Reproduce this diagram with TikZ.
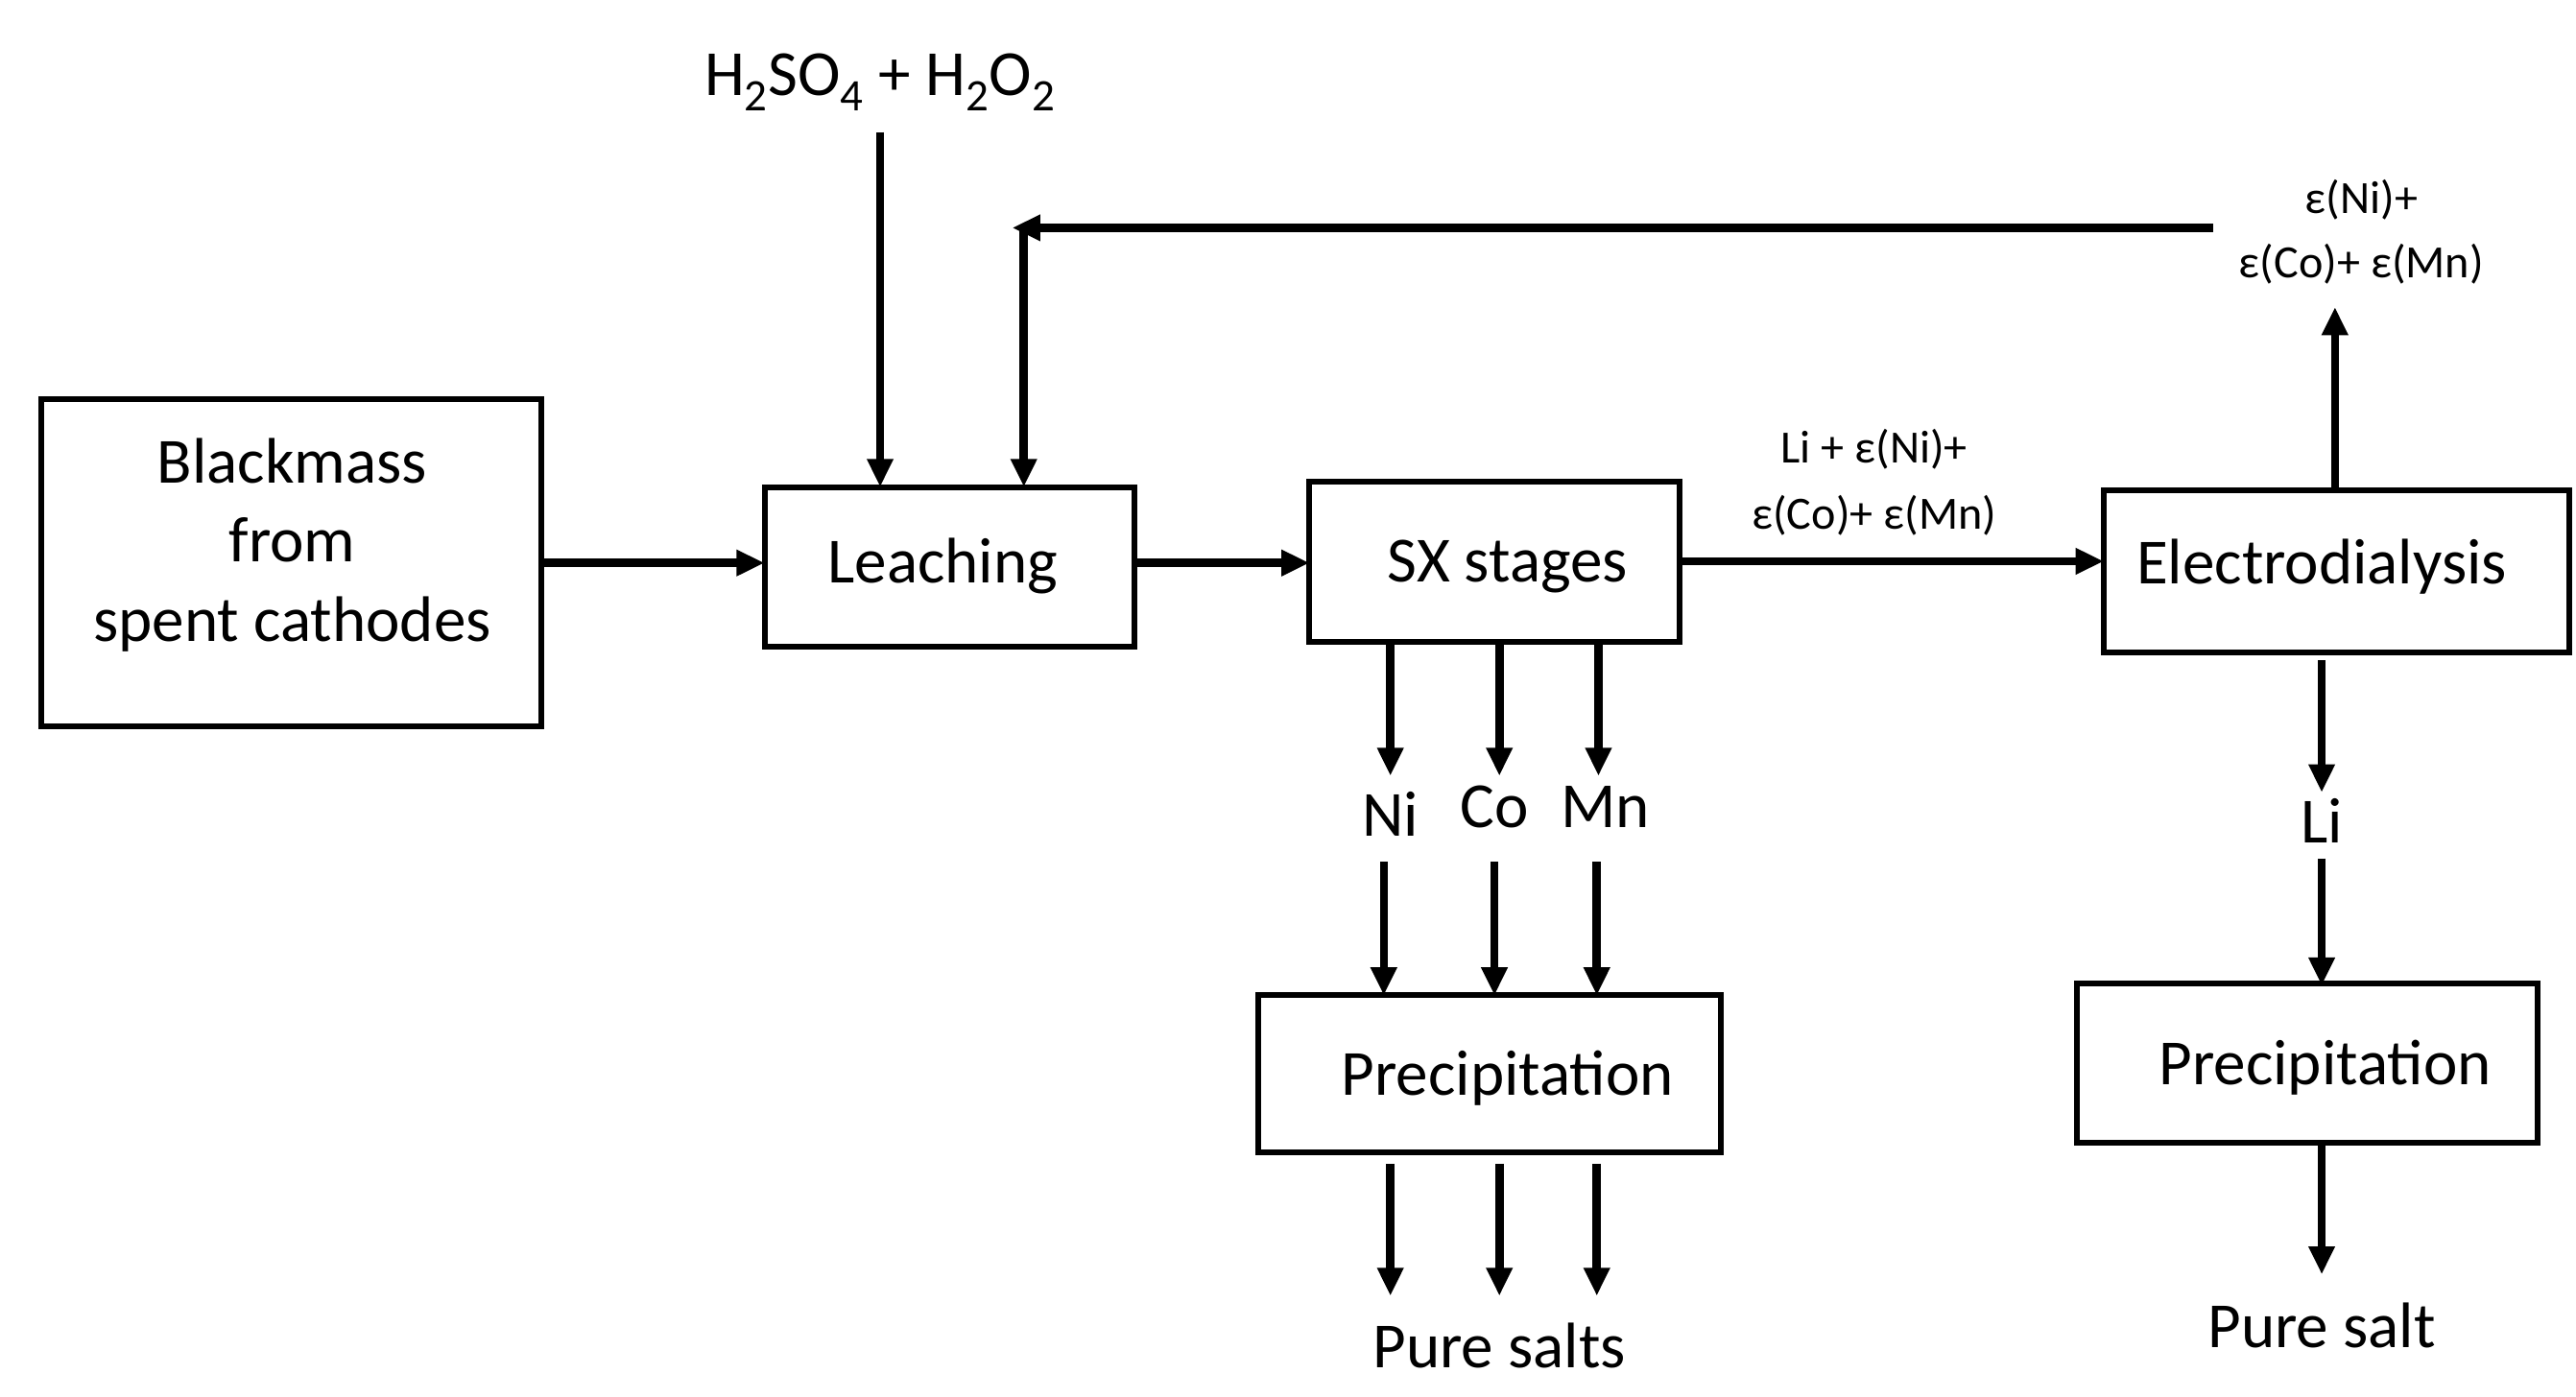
\documentclass[tikz,border=0pt]{standalone}
\usepackage{fontspec}
\setmainfont{Carlito}
\usetikzlibrary{arrows.meta}
\begin{document}
\begin{tikzpicture}[x=1pt,y=-1pt,
  box/.style={draw,line width=3.5pt,inner sep=0pt},
  lbl/.style={font=\fontsize{39}{48}\selectfont,inner sep=0pt,anchor=center},
  sm/.style={font=\fontsize{28}{32}\selectfont,inner sep=0pt,anchor=center},
  arr/.style={line width=5pt,-{Triangle[length=17pt,width=15pt]}}]
\useasboundingbox (0,0) rectangle (1560,846);
% boxes
\draw[box] (25,242) rectangle (328,440);
\node[lbl,align=center] (bm) at (177,330) {Blackmass\\from\\spent cathodes};
\draw[box] (463,295) rectangle (687,392); \node[lbl] (le) at (571,343) {Leaching};
\draw[box] (793,292) rectangle (1017,389); \node[lbl] (sx) at (913,343) {SX stages};
\draw[box] (1274,297) rectangle (1556,395); \node[lbl] (ed) at (1406,343) {Electrodialysis};
\draw[box] (762,603) rectangle (1042,698); \node[lbl] (p1) at (913,653) {Precipitation};
\draw[box] (1258,596) rectangle (1537,692); \node[lbl] (p2) at (1408,647) {Precipitation};
% texts
\node[lbl] (acid) at (533,50) {H\textsubscript{2}SO\textsubscript{4} + H\textsubscript{2}O\textsubscript{2}};
\node[sm] (e1) at (1430,121) {ε(Ni)+};
\node[sm] (e2) at (1430,160) {ε(Co)+ ε(Mn)};
\node[sm] (m1) at (1135,272) {Li + ε(Ni)+};
\node[sm] (m2) at (1135,312) {ε(Co)+ ε(Mn)};
\node[lbl] (ni) at (842,493) {Ni};
\node[lbl] (co) at (905,489) {Co};
\node[lbl] (mn) at (972,489) {Mn};
\node[lbl] (ps) at (908,815) {Pure salts};
\node[lbl] (li) at (1406,497) {Li};
\node[lbl] (ps2) at (1406,803) {Pure salt};
% coordinates and arrows
\draw[arr] (328,341) coordinate (a1) -- (463,341) coordinate (a2);
\draw[arr] (687,341) coordinate (b1) -- (793,341) coordinate (b2);
\draw[arr] (1017,340) coordinate (c1) -- (1274,340) coordinate (c2);
\draw[arr] (533,80) coordinate (d1) -- (533,295) coordinate (d2);
\draw[arr] (1340,138) coordinate (f1) -- (613,138) coordinate (f2);
\draw[arr] (620,136) coordinate (g1) -- (620,295) coordinate (g2);
\draw[arr] (1414,297) coordinate (h1) -- (1414,186) coordinate (h2);
\foreach \x/\n in {842/1,908/2,968/3}{
  \draw[arr] (\x,389) coordinate (s\n) -- (\x,470) coordinate (t\n);}
\foreach \x/\n in {838/1,905/2,967/3}{
  \draw[arr] (\x,522) coordinate (u\n) -- (\x,603) coordinate (v\n);}
\foreach \x/\n in {842/1,908/2,967/3}{
  \draw[arr] (\x,705) coordinate (w\n) -- (\x,785) coordinate (z\n);}
\draw[arr] (1406,400) coordinate (l1) -- (1406,480) coordinate (l2);
\draw[arr] (1406,520) coordinate (l3) -- (1406,597) coordinate (l4);
\draw[arr] (1406,692) coordinate (l5) -- (1406,772) coordinate (l6);
\end{tikzpicture}
\end{document}
